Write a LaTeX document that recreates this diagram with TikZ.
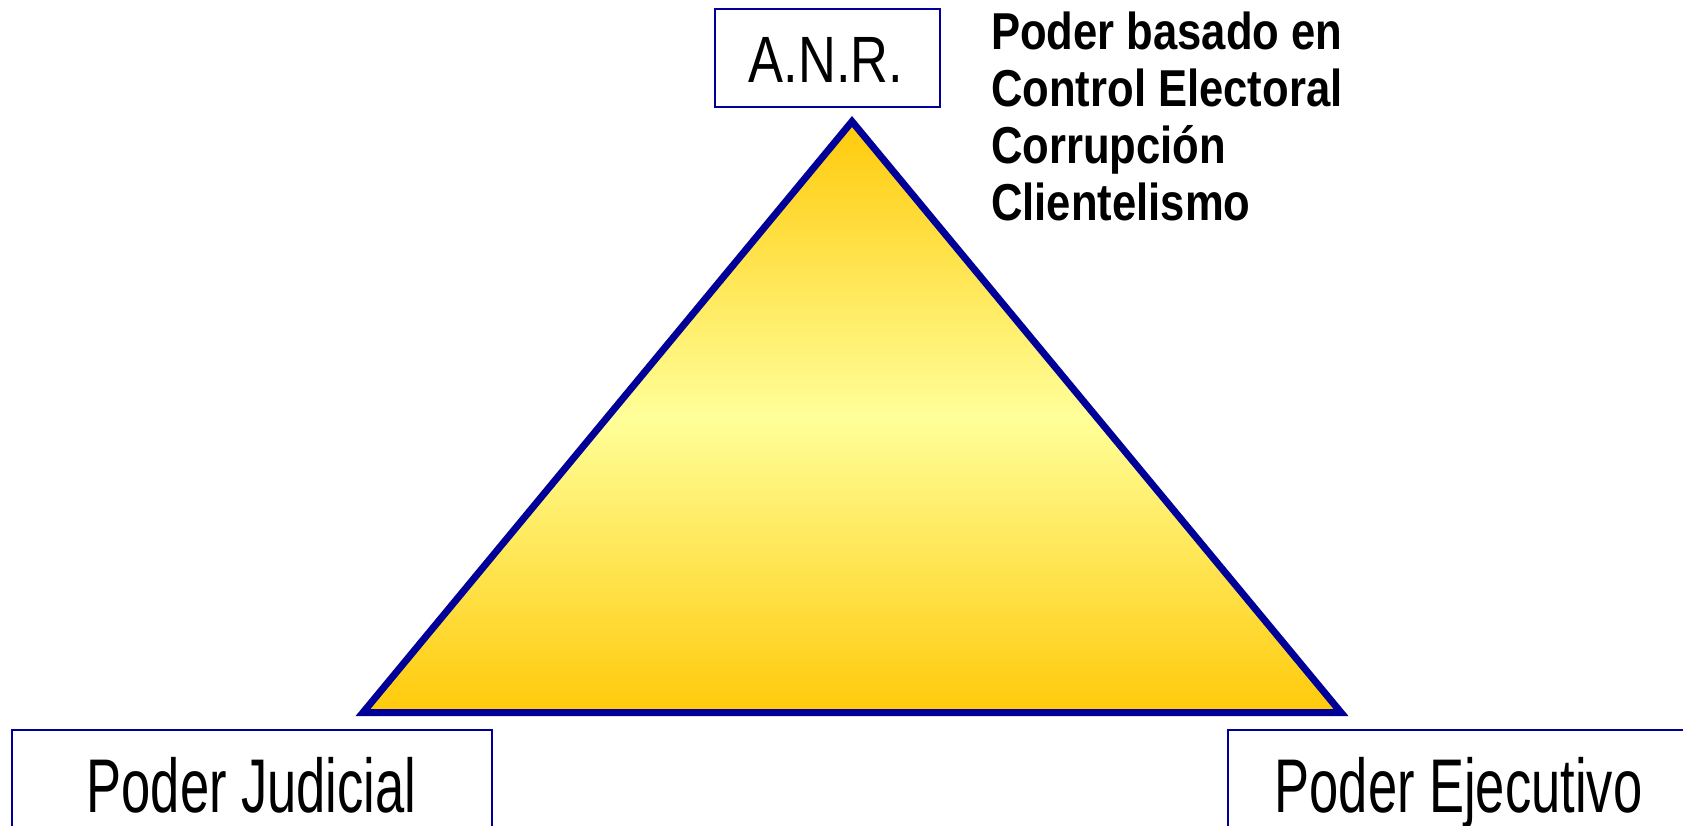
\documentclass[tikz,border=0pt]{standalone}
\usepackage{fontspec}
\setmainfont{Liberation Sans}
\usepackage{graphicx}
\definecolor{lineblue}{RGB}{0,0,153}
\definecolor{gold}{RGB}{255,202,10}
\definecolor{paleyellow}{RGB}{255,255,153}
\begin{document}
\begin{tikzpicture}[x=1pt,y=-1pt,
  boxnode/.style={draw=lineblue, line width=2pt, inner sep=0pt, fill=white},
  lbl/.style={inner sep=0pt, anchor=base}]
\useasboundingbox (0,0) rectangle (1683,826);
\fill[white] (0,0) rectangle (1683,826);
% triangle
\coordinate (apex) at (852,121.5);
\coordinate (bl) at (363,712.5);
\coordinate (br) at (1341,712.5);
\draw[draw=lineblue, line width=7pt, top color=gold, bottom color=gold, middle color=paleyellow]
  (apex) -- (br) -- (bl) -- cycle;
% boxes
\node[boxnode, minimum width=225pt, minimum height=98pt] (anr) at (827.5,58) {};
\node[boxnode, minimum width=480pt, minimum height=112pt] (judicial) at (252,786) {};
\node[boxnode, minimum width=461pt, minimum height=112pt] (ejecutivo) at (1458.5,786) {};
% labels
\node[lbl] (anrlabel) at (826,83) {\scalebox{1}[1.25]{\fontsize{52.4}{60}\selectfont A.N.R.}};
\node[lbl] (judlabel) at (251.5,812) {\scalebox{1}[1.45]{\fontsize{52.5}{60}\selectfont Poder Judicial}};
\node[lbl] (ejelabel) at (1458.5,812) {\scalebox{1}[1.45]{\fontsize{52.5}{60}\selectfont Poder Ejecutivo}};
\node[inner sep=0pt, anchor=base west] (notes) at (991,50) {\scalebox{1}[1.19]{\fontsize{43.6}{47.9}\selectfont\bfseries\begin{tabular}[t]{@{}l@{}}Poder basado en\\Control Electoral\\Corrupción\\Clientelismo\end{tabular}}};
\end{tikzpicture}
\end{document}
